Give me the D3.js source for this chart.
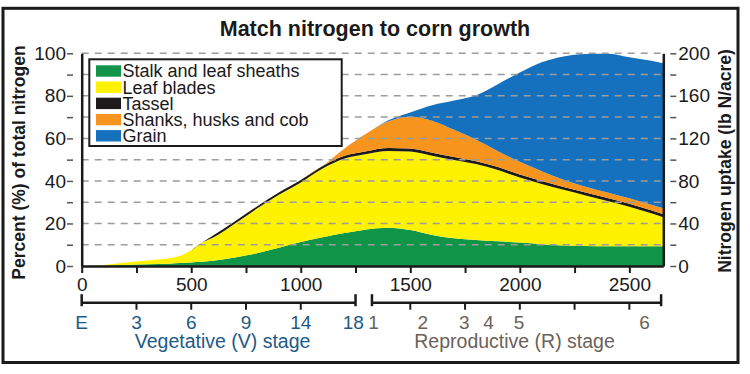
<!DOCTYPE html>
<html>
<head>
<meta charset="utf-8">
<script src="https://cdn.jsdelivr.net/npm/d3@7"></script>
<style>
  body { margin: 0; background: #fff; }
  text { font-family: "Liberation Sans", Arial, sans-serif; }
</style>
</head>
<body>
<svg id="chart" width="750" height="374"></svg>
<script>
// growing degree days (x) and nitrogen share of each plant part (% of total N at maturity)
const gdd = [0, 100, 200, 300, 400, 450, 500, 550, 600, 700, 800, 900, 1000, 1100, 1200,
  1300, 1400, 1500, 1600, 1700, 1800, 1900, 2000, 2100, 2200, 2300, 2400, 2500, 2600, 2655];
const stalk = [0, 0.2, 0.5, 0.8, 1.1, 1.4, 1.7, 2.0, 2.5, 4.0, 6.0, 8.6, 11.3, 13.5, 15.5,
  17.2, 18.0, 16.9, 14.6, 13.0, 12.2, 11.6, 11.0, 10.2, 9.6, 9.4, 9.3, 9.3, 9.3, 9.3];
const leafBlades = [0, 0.3, 1.1, 1.8, 2.5, 3.4, 5.7, 9.0, 10.9, 16.0, 21.0, 24.9, 28.0, 32.3, 35.0,
  35.5, 36.1, 36.9, 37.2, 36.8, 35.7, 33.5, 30.6, 28.4, 26.2, 23.8, 21.3, 18.6, 15.5, 13.6];
const tassel = [0, 0, 0, 0, 0, 0, 0, 0, 0.9, 1.0, 1.0, 1.0, 1.1, 1.2, 1.3,
  1.3, 1.4, 1.4, 1.4, 1.4, 1.4, 1.4, 1.4, 1.4, 1.4, 1.4, 1.4, 1.4, 1.4, 1.4];
const shanks = [0, 0, 0, 0, 0, 0, 0, 0, 0, 0, 0, 0, 0, 0, 3.4,
  8.3, 12.5, 15.0, 15.1, 12.8, 10.0, 7.5, 6.0, 4.6, 3.4, 2.7, 2.6, 2.5, 2.6, 2.8];
const grain = [0, 0, 0, 0, 0, 0, 0, 0, 0, 0, 0, 0, 0, 0, 0,
  0, 0.5, 2.0, 7.3, 13.8, 21.0, 31.5, 42.0, 51.2, 57.9, 62.4, 65.2, 66.4, 67.7, 68.2];

const seriesKeys = ["stalk", "leaf", "tassel", "shanks", "grain"];
const seriesNames = ["Stalk and leaf sheaths", "Leaf blades", "Tassel", "Shanks, husks and cob", "Grain"];
const seriesColors = ["#109447", "#fff200", "#1c1a1a", "#f7941e", "#1570bd"];

const percentTicks = [0, 10, 20, 30, 40, 50, 60, 70, 80, 90, 100];
const uptakeTicks = [0, 20, 40, 60, 80, 100, 120, 140, 160, 180, 200];
const gddTicks = [0, 250, 500, 750, 1000, 1250, 1500, 1750, 2000, 2250, 2500];

// crop stages along the gdd axis
const vegSpan = [0, 1250];
const vegTicks = [250, 500, 750, 1000];
const vegLabels = ["E", "3", "6", "9", "14", "18"];
const vegLabelGdd = [0, 250, 500, 750, 1000, 1240];
const repSpan = [1325, 2645];
const repTicks = [1500, 1750, 2000, 2250, 2500];
const repLabels = ["1", "2", "3", "4", "5", "6"];
const repLabelGdd = [1332, 1557, 1747, 1857, 1997, 2569];

const table = gdd.map((g, i) => ({
  gdd: g, stalk: stalk[i], leaf: leafBlades[i], tassel: tassel[i], shanks: shanks[i], grain: grain[i]
}));

const width = 750, height = 374;
const margin = { top: 53.3, right: 86.7, bottom: 108, left: 81.7 };
const plotRight = width - margin.right;
const plotBottom = height - margin.bottom;

const svg = d3.select("#chart");

const x = d3.scaleLinear().domain([0, 2655]).range([margin.left, plotRight]);
const y = d3.scaleLinear().domain([0, 100]).range([plotBottom, margin.top]);
const y2 = d3.scaleLinear().domain([0, 200]).range([plotBottom, margin.top]);

// frame
svg.append("rect")
  .attr("x", 3).attr("y", 8.3).attr("width", 735).attr("height", 354.2)
  .attr("fill", "#fff").attr("stroke", "#1a1a1a").attr("stroke-width", 3);

svg.append("text")
  .attr("x", 375).attr("y", 36)
  .attr("text-anchor", "middle")
  .attr("font-size", 21.5).attr("font-weight", "bold").attr("fill", "#1a1a1a")
  .text("Match nitrogen to corn growth");

// stacked areas
const stacked = d3.stack().keys(seriesKeys)(table);
const area = d3.area()
  .curve(d3.curveMonotoneX)
  .x(d => x(d.data.gdd))
  .y0(d => y(d[0]))
  .y1(d => y(d[1]));

svg.append("g").attr("id", "viz")
  .selectAll("path")
  .data(stacked)
  .join("path")
  .attr("fill", (d, i) => seriesColors[i])
  .attr("d", area);

// dashed grid
svg.append("g").attr("id", "grid")
  .selectAll("line")
  .data(percentTicks.filter(v => v > 0))
  .join("line")
  .attr("x1", x(0)).attr("x2", plotRight)
  .attr("y1", d => y(d)).attr("y2", d => y(d))
  .attr("stroke", "#9c9c9c").attr("stroke-width", 1.5)
  .attr("stroke-dasharray", "7,6");

const tickFont = "DejaVu Sans, sans-serif";

// left axis: ticks sit left of the axis line
svg.append("g")
  .attr("transform", `translate(${margin.left - 8.7},0)`)
  .call(d3.axisLeft(y).tickValues(percentTicks).tickSize(6).tickPadding(1)
    .tickFormat(d => d % 20 === 0 ? d : ""))
  .call(g => g.select(".domain").remove())
  .call(g => g.selectAll(".tick line").attr("stroke", "#555").attr("stroke-width", 1.5))
  .call(g => g.selectAll("text").attr("font-family", tickFont).attr("font-size", 19).attr("fill", "#1a1a1a"));

// right axis
svg.append("g")
  .attr("transform", `translate(${plotRight + 7},0)`)
  .call(d3.axisRight(y2).tickValues(uptakeTicks).tickSize(6).tickPadding(2)
    .tickFormat(d => d % 40 === 0 ? d : ""))
  .call(g => g.select(".domain").remove())
  .call(g => g.selectAll(".tick line").attr("stroke", "#555").attr("stroke-width", 1.5))
  .call(g => g.selectAll("text").attr("font-family", tickFont).attr("font-size", 19).attr("fill", "#1a1a1a"));

// axis lines
svg.append("g")
  .attr("transform", `translate(${margin.left},0)`)
  .call(d3.axisLeft(y).tickValues([]).tickSizeOuter(0))
  .call(g => g.select(".domain").attr("stroke", "#1a1a1a").attr("stroke-width", 2.5));
svg.append("g")
  .attr("transform", `translate(${plotRight},0)`)
  .call(d3.axisRight(y).tickValues([]).tickSizeOuter(0))
  .call(g => g.select(".domain").attr("stroke", "#1a1a1a").attr("stroke-width", 2.5));

// bottom gdd axis
svg.append("g")
  .attr("transform", `translate(0,${plotBottom})`)
  .call(d3.axisBottom(x).tickValues(gddTicks).tickSize(7).tickSizeOuter(0).tickPadding(5)
    .tickFormat(d => d % 500 === 0 ? d : ""))
  .call(g => g.select(".domain").attr("stroke", "#1a1a1a").attr("stroke-width", 2.5))
  .call(g => g.selectAll(".tick line").attr("stroke", "#1a1a1a").attr("stroke-width", 2))
  .call(g => g.selectAll("text").attr("font-family", tickFont).attr("font-size", 19).attr("fill", "#1a1a1a"));

// stage brackets
function stageBracket(span, ticks, labels, labelGdd, title, color) {
  const by = 302.7;
  const g = svg.append("g");
  g.append("line")
    .attr("x1", x(span[0])).attr("x2", x(span[1]))
    .attr("y1", by).attr("y2", by)
    .attr("stroke", "#1a1a1a").attr("stroke-width", 2.5);
  g.selectAll("line.cap")
    .data(span)
    .join("line").attr("class", "cap")
    .attr("x1", d => x(d)).attr("x2", d => x(d))
    .attr("y1", by - 8.5).attr("y2", by + 3.5)
    .attr("stroke", "#1a1a1a").attr("stroke-width", 2.5);
  g.selectAll("line.tk")
    .data(ticks)
    .join("line").attr("class", "tk")
    .attr("x1", d => x(d)).attr("x2", d => x(d))
    .attr("y1", by).attr("y2", by + 7)
    .attr("stroke", "#1a1a1a").attr("stroke-width", 2);
  g.selectAll("text.lab")
    .data(labels)
    .join("text").attr("class", "lab")
    .attr("x", (d, i) => x(labelGdd[i]))
    .attr("y", 328.5)
    .attr("text-anchor", "middle")
    .attr("font-family", tickFont).attr("font-size", 19)
    .attr("fill", color)
    .text(d => d);
  g.append("text")
    .attr("x", (x(span[0]) + x(span[1])) / 2 + (span[0] === 0 ? 4 : -2))
    .attr("y", 348)
    .attr("text-anchor", "middle")
    .attr("font-size", 19.5)
    .attr("fill", color)
    .text(title);
}
stageBracket(vegSpan, vegTicks, vegLabels, vegLabelGdd, "Vegetative (V) stage", "#1d5a86");
stageBracket(repSpan, repTicks, repLabels, repLabelGdd, "Reproductive (R) stage", "#6b6158");

// axis titles
svg.append("text")
  .attr("transform", "translate(25,162.5) rotate(-90)")
  .attr("text-anchor", "middle")
  .attr("font-size", 17.5).attr("font-weight", "bold").attr("fill", "#1a1a1a")
  .text("Percent (%) of total nitrogen");
svg.append("text")
  .attr("transform", "translate(731,161) rotate(-90)")
  .attr("text-anchor", "middle")
  .attr("font-size", 17.5).attr("font-weight", "bold").attr("fill", "#1a1a1a")
  .text("Nitrogen uptake (lb N/acre)");

// legend
const legend = svg.append("g").attr("id", "legend");
legend.append("rect")
  .attr("x", 89.3).attr("y", 59.3).attr("width", 252.4).attr("height", 86.7)
  .attr("fill", "#fff").attr("stroke", "#1a1a1a").attr("stroke-width", 2);
const rows = legend.selectAll("g.row")
  .data(seriesNames)
  .join("g").attr("class", "row")
  .attr("transform", (d, i) => `translate(96,${71 + i * 16.2})`);
rows.append("rect")
  .attr("x", 0).attr("y", -5.7).attr("width", 25).attr("height", 11.4)
  .attr("fill", (d, i) => seriesColors[i]);
rows.append("text")
  .attr("x", 26.5).attr("y", 0).attr("dy", "0.36em")
  .attr("font-size", 18).attr("fill", "#1a1a1a")
  .text(d => d);
</script>
</body>
</html>
